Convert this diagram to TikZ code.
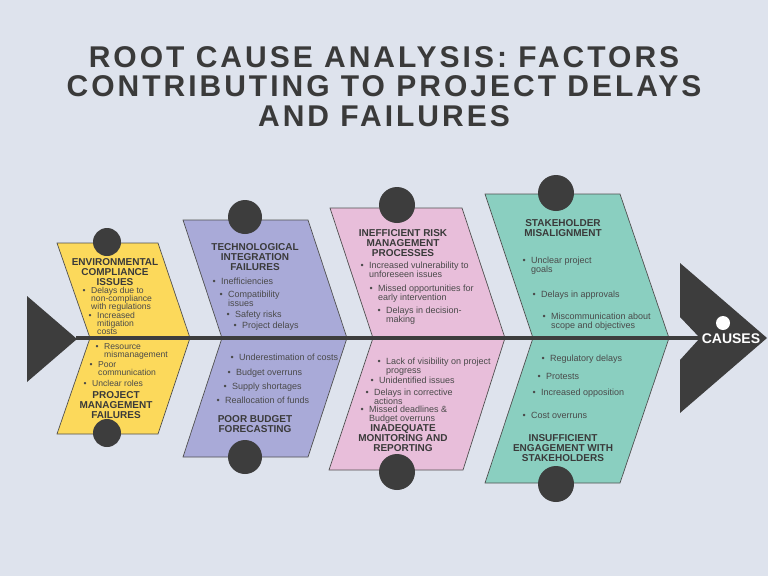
\documentclass[tikz,border=0pt]{standalone}
\usepackage{fontspec}
\setmainfont{Liberation Sans}
\newfontfamily\titlefont[LetterSpace=10]{Liberation Sans}
\definecolor{bg}{HTML}{DEE3ED}
\definecolor{ylw}{HTML}{FCD95B}
\definecolor{prp}{HTML}{A9AAD8}
\definecolor{pnk}{HTML}{E8BEDA}
\definecolor{tel}{HTML}{8ACFC0}
\definecolor{drk}{HTML}{3D3D3D}
\definecolor{hdc}{HTML}{3A3A3A}
\definecolor{txc}{HTML}{4A4A4A}
\newcommand\bl{\llap{\textbullet\hspace{5.5pt}}}
\tikzset{
  panel/.style={draw=drk!90, line width=0.7pt},
  knob/.style={circle, fill=drk, inner sep=0pt, minimum size=#1},
  hd/.style={anchor=north, inner sep=0pt, align=center, text=hdc, font=\fontsize{10}{10}\selectfont\bfseries},
  itm/.style={anchor=north west, inner sep=0pt, align=left, text=txc, font=\fontsize{9}{9}\selectfont},
  yitm/.style={itm, font=\fontsize{8.6}{8.2}\selectfont},
  ttl/.style={anchor=north, inner sep=0pt, align=center, text=hdc, font=\fontsize{30}{29.2}\titlefont\bfseries}
}
\begin{document}
\begin{tikzpicture}[x=1pt,y=-1pt]
\fill[bg] (0,0) rectangle (768,576);
\useasboundingbox (0,0) rectangle (768,576);

% title
\node[ttl] (title) at (384,46.5) {ROOT CAUSE ANALYSIS: FACTORS\\CONTRIBUTING TO PROJECT DELAYS\\AND FAILURES};

% panels
\filldraw[panel, fill=ylw] (57,243)--(158,243)--(190,338)--(90,338)--cycle;
\filldraw[panel, fill=ylw] (90,338)--(190,338)--(158,434)--(57,434)--cycle;
\filldraw[panel, fill=prp] (183,220)--(308,220)--(347,338)--(222,338)--cycle;
\filldraw[panel, fill=prp] (222,338)--(347,338)--(308,457)--(183,457)--cycle;
\filldraw[panel, fill=pnk] (330,208)--(462,208)--(505,338)--(373,338)--cycle;
\filldraw[panel, fill=pnk] (373,338)--(505,338)--(463,470)--(329,470)--cycle;
\filldraw[panel, fill=tel] (485,194)--(620,194)--(669,338)--(533,338)--cycle;
\filldraw[panel, fill=tel] (533,338)--(669,338)--(620,483)--(485,483)--cycle;

% tail and head
\fill[drk] (27,296)--(27,382)--(77,339)--cycle;
\coordinate (tail) at (76,338);
\fill[drk] (680,263)--(767,338)--(680,413)--(680,360)--(700,338)--(680,317)--cycle;
\coordinate (headin) at (701,338);
\draw[drk, line width=4pt] (tail) -- (headin);
\node[circle, fill=white, inner sep=0pt, minimum size=14pt] (eye) at (723,323) {};
\node[text=white, inner sep=0pt, font=\fontsize{14}{14}\selectfont\bfseries] (causes) at (731,338.5) {CAUSES};

% knobs
\node[knob=28pt] (k1t) at (107,242) {};
\node[knob=28pt] (k1b) at (107,433) {};
\node[knob=34pt] (k2t) at (245,217) {};
\node[knob=34pt] (k2b) at (245,457) {};
\node[knob=36pt] (k3t) at (397,205) {};
\node[knob=36pt] (k3b) at (397,472) {};
\node[knob=36pt] (k4t) at (556,193) {};
\node[knob=36pt] (k4b) at (556,484) {};

% yellow
\node[hd] (h1t) at (115,258) {ENVIRONMENTAL\\COMPLIANCE\\ISSUES};
\node[yitm] (y1) at (91,286.8) {\bl Delays due to\\non-compliance\\with regulations};
\node[yitm] (y2) at (97,311.8) {\bl Increased\\mitigation\\costs};
\node[yitm] (y3) at (104,343.5) {\bl Resource\\mismanagement};
\node[yitm] (y4) at (98,361.5) {\bl Poor\\communication};
\node[yitm] (y5) at (92,380.5) {\bl Unclear roles};
\node[hd] (h1b) at (116,391) {PROJECT\\MANAGEMENT\\FAILURES};

% purple
\node[hd] (h2t) at (255,243) {TECHNOLOGICAL\\INTEGRATION\\FAILURES};
\node[itm] (p1) at (221,278) {\bl Inefficiencies};
\node[itm] (p2) at (228,291) {\bl Compatibility\\issues};
\node[itm] (p3) at (235,311) {\bl Safety risks};
\node[itm] (p4) at (242,322) {\bl Project delays};
\node[itm] (p5) at (239,354) {\bl Underestimation of costs};
\node[itm] (p6) at (236,369) {\bl Budget overruns};
\node[itm] (p7) at (232,383) {\bl Supply shortages};
\node[itm] (p8) at (225,397) {\bl Reallocation of funds};
\node[hd] (h2b) at (255,415) {POOR BUDGET\\FORECASTING};

% pink
\node[hd] (h3t) at (403,229) {INEFFICIENT RISK\\MANAGEMENT\\PROCESSES};
\node[itm] (k1) at (369,262) {\bl Increased vulnerability to\\unforeseen issues};
\node[itm] (k2) at (378,285) {\bl Missed opportunities for\\early intervention};
\node[itm] (k3) at (386,307) {\bl Delays in decision-\\making};
\node[itm] (k4) at (386,358) {\bl Lack of visibility on project\\progress};
\node[itm] (k5) at (379,377) {\bl Unidentified issues};
\node[itm] (k6) at (374,389) {\bl Delays in corrective\\actions};
\node[itm] (k7) at (369,406) {\bl Missed deadlines \&\\Budget overruns};
\node[hd] (h3b) at (403,424) {INADEQUATE\\MONITORING AND\\REPORTING};

% teal
\node[hd] (h4t) at (563,219) {STAKEHOLDER\\MISALIGNMENT};
\node[itm] (t1) at (531,257) {\bl Unclear project\\goals};
\node[itm] (t2) at (541,291) {\bl Delays in approvals};
\node[itm] (t3) at (551,313) {\bl Miscommunication about\\scope and objectives};
\node[itm] (t4) at (550,355) {\bl Regulatory delays};
\node[itm] (t5) at (546,373) {\bl Protests};
\node[itm] (t6) at (541,389) {\bl Increased opposition};
\node[itm] (t7) at (531,412) {\bl Cost overruns};
\node[hd] (h4b) at (563,434) {INSUFFICIENT\\ENGAGEMENT WITH\\STAKEHOLDERS};
\end{tikzpicture}
\end{document}
